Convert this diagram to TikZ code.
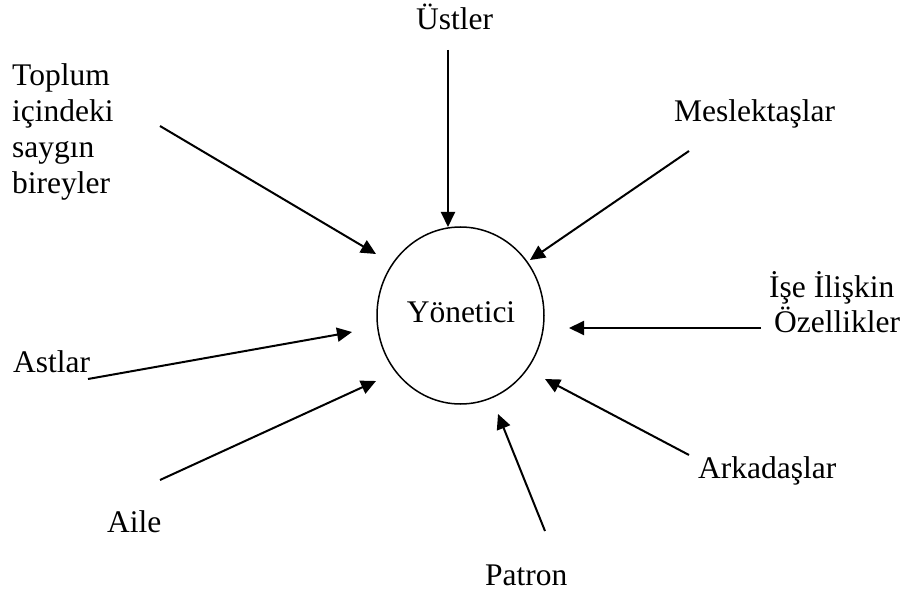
\documentclass[tikz,border=0pt]{standalone}
\usepackage{fontspec}
\setmainfont{Liberation Serif}
\usetikzlibrary{arrows.meta,shapes.geometric}
\begin{document}
\begin{tikzpicture}[x=1pt,y=-1pt,
  lbl/.style={anchor=base west,inner sep=0pt,font=\fontsize{31.5}{36}\selectfont},
  arr/.style={line width=2pt,-{Triangle[length=15pt,width=14pt]}},
  hub/.style={draw,ellipse,line width=1.5pt,minimum width=167pt,minimum height=177pt,inner sep=0pt}]
\useasboundingbox[fill=white] (0,0) rectangle (914,591);
% centre
\node[hub] (yon) at (460.5,315.5) {};
\node[lbl,anchor=base] (yontxt) at (461,322) {Yönetici};
% labels
\node[lbl] (ust) at (416,30) {Üstler};
\node[lbl,align=left,anchor=north west] (top) at (12,63.5) {Toplum\\içindeki\\saygın\\bireyler};
\node[lbl] (mes) at (674,122) {Meslektaşlar};
\node[lbl] (ise1) at (769,297) {İşe İlişkin};
\node[lbl] (ise2) at (774,332) {Özellikler};
\node[lbl] (ast) at (13,372) {Astlar};
\node[lbl] (aile) at (107,532) {Aile};
\node[lbl] (pat) at (485,585) {Patron};
\node[lbl] (ark) at (698,478) {Arkadaşlar};
% connector ends
\coordinate (ustA) at (448,50);   \coordinate (ustB) at (448,227);
\coordinate (topA) at (160,126);  \coordinate (topB) at (376,254);
\coordinate (mesA) at (689,151);  \coordinate (mesB) at (530,260);
\coordinate (iseA) at (761,328);  \coordinate (iseB) at (569,328);
\coordinate (astA) at (88,379);   \coordinate (astB) at (352,332);
\coordinate (aileA) at (160,480); \coordinate (aileB) at (376,381);
\coordinate (patA) at (545,531);  \coordinate (patB) at (498,414);
\coordinate (arkA) at (689,455);  \coordinate (arkB) at (545,379);
% connectors
\draw[arr] (ustA) -- (ustB);
\draw[arr] (topA) -- (topB);
\draw[arr] (mesA) -- (mesB);
\draw[arr] (iseA) -- (iseB);
\draw[arr] (astA) -- (astB);
\draw[arr] (aileA) -- (aileB);
\draw[arr] (patA) -- (patB);
\draw[arr] (arkA) -- (arkB);
\end{tikzpicture}
\end{document}
